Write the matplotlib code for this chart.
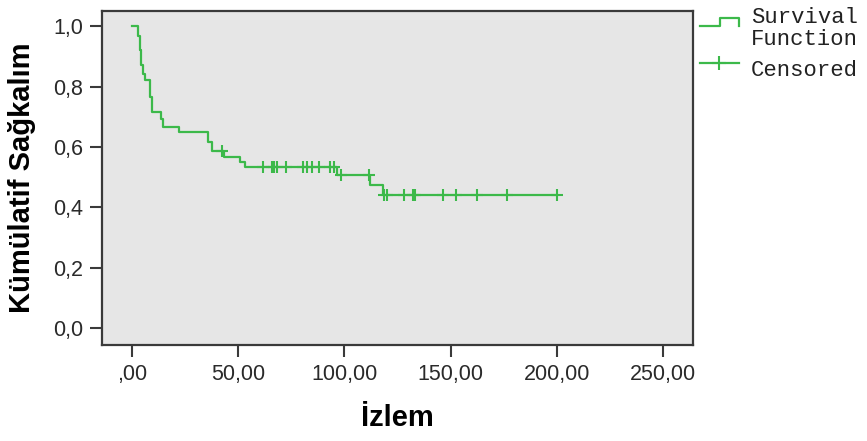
import matplotlib
matplotlib.use("Agg")
import matplotlib.pyplot as plt
from matplotlib.lines import Line2D
import numpy as np

# step function of the survival estimate (time, survival after the step)
event_times = [0, 3.1, 3.9, 4.4, 5.3, 6.3, 8.6, 9.7, 13.8, 14.6, 22.4,
               35.8, 38.0, 43.4, 51.0, 53.3, 96.8, 112.1, 118.3]
survival = [1.0, 0.967, 0.92, 0.87, 0.84, 0.82, 0.766, 0.716, 0.694, 0.667, 0.65,
            0.617, 0.587, 0.567, 0.551, 0.534, 0.507, 0.474, 0.44]
last_time = 200.0

# censored observations
censor_times = [42.3, 61.9, 65.8, 66.9, 68.2, 72.6, 80.7, 82.3, 84.7, 88.2, 93.3, 95.2,
                98.3, 111.8, 118.6, 120.2, 128.1, 132.5, 133.3, 146.3, 152.5, 162.3,
                176.4, 199.9]

xticks = [0, 50, 100, 150, 200, 250]
xticklabels = [",00", "50,00", "100,00", "150,00", "200,00", "250,00"]
yticks = [0.0, 0.2, 0.4, 0.6, 0.8, 1.0]
yticklabels = ["0,0", "0,2", "0,4", "0,6", "0,8", "1,0"]

green = "#3cb94a"
frame = "#3a3a3a"

fig = plt.figure(figsize=(8.67, 4.41), dpi=100)
ax = fig.add_axes([0.1173, 0.2177, 0.6824, 0.758])
ax.set_facecolor("#e6e6e6")

xs = event_times + [last_time]
ys = survival + [survival[-1]]
ax.step(xs, ys, where="post", color=green, lw=1.6)

idx = np.searchsorted(event_times, censor_times, side="right") - 1
cy = [survival[i] for i in idx]
ax.plot(censor_times, cy, "+", color=green, ms=9, mew=1.5, ls="none")

ax.set_xlim(-14.1, 264.2)
ax.set_ylim(-0.056, 1.051)
ax.set_xticks(xticks)
ax.set_xticklabels(xticklabels)
ax.set_yticks(yticks)
ax.set_yticklabels(yticklabels)
ax.tick_params(axis="both", direction="out", length=8.5, width=1.5, color=frame,
               labelsize=15.5, labelcolor="#2a2a2a", pad=5,
               labelfontfamily="Liberation Sans")
for s in ax.spines.values():
    s.set_color(frame)
    s.set_linewidth(1.6)

ax.set_xlabel("İzlem", fontsize=21, fontweight="bold", family="Liberation Sans",
              labelpad=14)
ax.set_ylabel("Kümülatif Sağkalım", fontsize=21, fontweight="bold",
              family="Liberation Sans", labelpad=12)

# legend drawn outside the plot on the right
W, H = 867.0, 441.0
def fx(p):
    return p / W
def fy(p):
    return 1 - p / H

fig.add_artist(Line2D([fx(700), fx(720), fx(720), fx(739), fx(739)],
                      [fy(26), fy(26), fy(18), fy(18), fy(26)],
                      color=green, lw=1.6))
fig.add_artist(Line2D([fx(700), fx(739)], [fy(63), fy(63)], color=green, lw=1.6))
fig.add_artist(Line2D([fx(719)], [fy(63)], marker="+", ms=10, mew=1.5, color=green))
fig.text(fx(751), fy(23), "Survival", fontsize=16, family="Liberation Mono",
         va="baseline", ha="left", color="#222222")
fig.text(fx(751), fy(45), "Function", fontsize=16, family="Liberation Mono",
         va="baseline", ha="left", color="#222222")
fig.text(fx(751), fy(76), "Censored", fontsize=16, family="Liberation Mono",
         va="baseline", ha="left", color="#222222")

fig.savefig("out.png", dpi=100)
